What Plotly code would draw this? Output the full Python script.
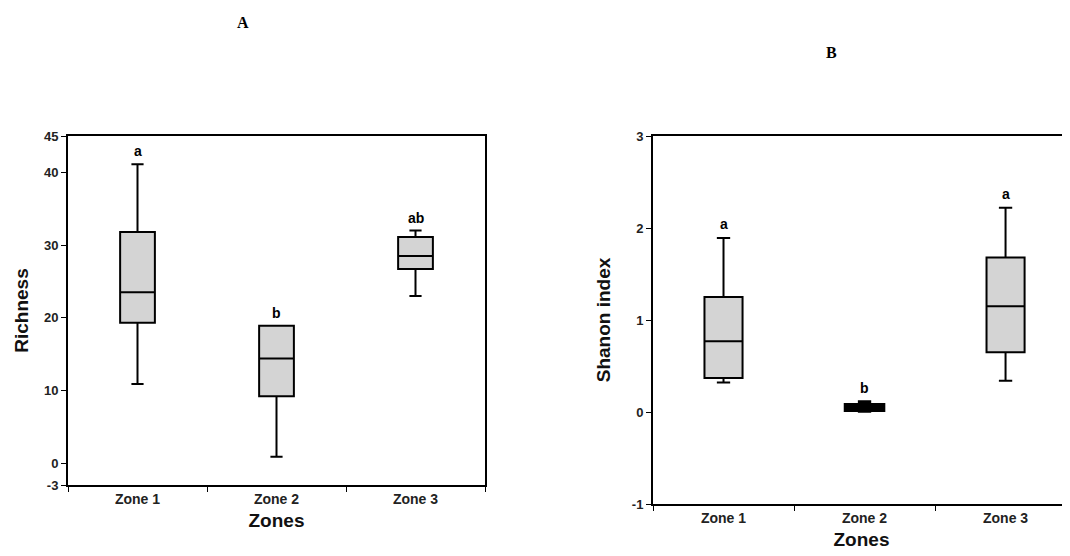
import plotly.graph_objects as go

zones = ["Zone 1", "Zone 2", "Zone 3"]

# Panel A: Richness
rich_lower = [10.9, 0.9, 23.0]
rich_q1 = [19.3, 9.2, 26.7]
rich_median = [23.5, 14.4, 28.5]
rich_q3 = [31.8, 18.9, 31.1]
rich_upper = [41.1, 18.9, 32.0]
rich_letters = ["a", "b", "ab"]
rich_ticks = [-3, 0, 10, 20, 30, 40, 45]
rich_ticktext = ["-3", "0", "10", "20", "30", "40", "45"]

# Panel B: Shannon index
shan_lower = [0.32, 0.01, 0.34]
shan_q1 = [0.37, 0.02, 0.65]
shan_median = [0.77, 0.05, 1.15]
shan_q3 = [1.25, 0.08, 1.68]
shan_upper = [1.89, 0.11, 2.22]
shan_letters = ["a", "b", "a"]
shan_ticks = [-1, 0, 1, 2, 3]
shan_ticktext = ["-1", "0", "1", "2", "3"]

FONT = "Arial, Liberation Sans, sans-serif"

# page body has an 8px margin; figure is sized to fill the rest of the window
OFF = 8
W, H = 1070 - OFF, 556 - OFF


def px(x):
    return (x - OFF) / W


def py(y):
    return 1 - (y - OFF) / H


fig = go.Figure()

box_lw_a = [2, 2, 2]
box_lw_b = [2, 3.5, 2]
for i, z in enumerate(zones):
    fig.add_trace(go.Box(
        x=[z], q1=[rich_q1[i]], median=[rich_median[i]], q3=[rich_q3[i]],
        lowerfence=[rich_lower[i]], upperfence=[rich_upper[i]],
        width=0.25, whiskerwidth=0.35,
        fillcolor="#d4d4d4", line=dict(color="black", width=box_lw_a[i]),
        boxpoints=False, hoverinfo="skip",
        xaxis="x", yaxis="y", showlegend=False,
    ))
    fig.add_trace(go.Box(
        x=[z], q1=[shan_q1[i]], median=[shan_median[i]], q3=[shan_q3[i]],
        lowerfence=[shan_lower[i]], upperfence=[shan_upper[i]],
        width=0.27, whiskerwidth=0.35,
        fillcolor="#d4d4d4", line=dict(color="black", width=box_lw_b[i]),
        boxpoints=False, hoverinfo="skip",
        xaxis="x2", yaxis="y2", showlegend=False,
    ))

annotations = []
for z, lab, top in zip(zones, rich_letters, rich_upper):
    annotations.append(dict(x=z, y=top, xref="x", yref="y", text=lab, showarrow=False,
                            yanchor="bottom", yshift=3,
                            font=dict(family=FONT, size=14, color="black", weight="bold")))
for z, lab, top in zip(zones, shan_letters, shan_upper):
    annotations.append(dict(x=z, y=top, xref="x2", yref="y2", text=lab, showarrow=False,
                            yanchor="bottom", yshift=4,
                            font=dict(family=FONT, size=14, color="black", weight="bold")))

annotations.append(dict(x=px(243), y=py(22), xref="paper", yref="paper", text="<b>A</b>",
                        showarrow=False, xanchor="center", yanchor="middle",
                        font=dict(family="Liberation Serif, Times New Roman, serif", size=16, color="black")))
annotations.append(dict(x=px(831), y=py(52), xref="paper", yref="paper", text="<b>B</b>",
                        showarrow=False, xanchor="center", yanchor="middle",
                        font=dict(family="Liberation Serif, Times New Roman, serif", size=16, color="black")))

axis_common = dict(showline=True, linecolor="black", linewidth=2, showgrid=False,
                   zeroline=False, ticks="outside", tickcolor="black", ticklen=5, tickwidth=1,
                   automargin=False)
tickfont_x = dict(family=FONT, size=14, color="#222", weight="bold")
tickfont_y = dict(family=FONT, size=13, color="#222", weight="bold")
titlefont = dict(family=FONT, size=19, color="#111", weight="bold")

fig.update_layout(
    width=W, height=H,
    margin=dict(l=0, r=0, t=0, b=0),
    paper_bgcolor="white", plot_bgcolor="white",
    annotations=annotations,
    xaxis=dict(domain=[px(68), px(485)], anchor="y", type="category",
               categoryorder="array", categoryarray=zones, range=[-0.5, 2.5],
               tickson="boundaries", mirror=True, tickfont=tickfont_x,
               title=dict(text="Zones", font=titlefont, standoff=8), **axis_common),
    yaxis=dict(domain=[py(485), py(136)], anchor="x", range=[-3, 45],
               tickmode="array", tickvals=rich_ticks, ticktext=rich_ticktext,
               mirror=True, tickfont=tickfont_y,
               title=dict(text="Richness", font=titlefont, standoff=10), **axis_common),
    xaxis2=dict(domain=[px(653), 1.0], anchor="y2", type="category",
                categoryorder="array", categoryarray=zones, range=[-0.5, 2.457],
                tickson="boundaries", mirror=True, tickfont=tickfont_x,
                title=dict(text="Zones", font=titlefont, standoff=8), **axis_common),
    yaxis2=dict(domain=[py(504), py(136)], anchor="x2", range=[-1, 3],
                tickmode="array", tickvals=shan_ticks, ticktext=shan_ticktext,
                mirror=False, tickfont=tickfont_y,
                title=dict(text="Shanon index", font=titlefont, standoff=16), **axis_common),
)

fig.write_html("out.html")
